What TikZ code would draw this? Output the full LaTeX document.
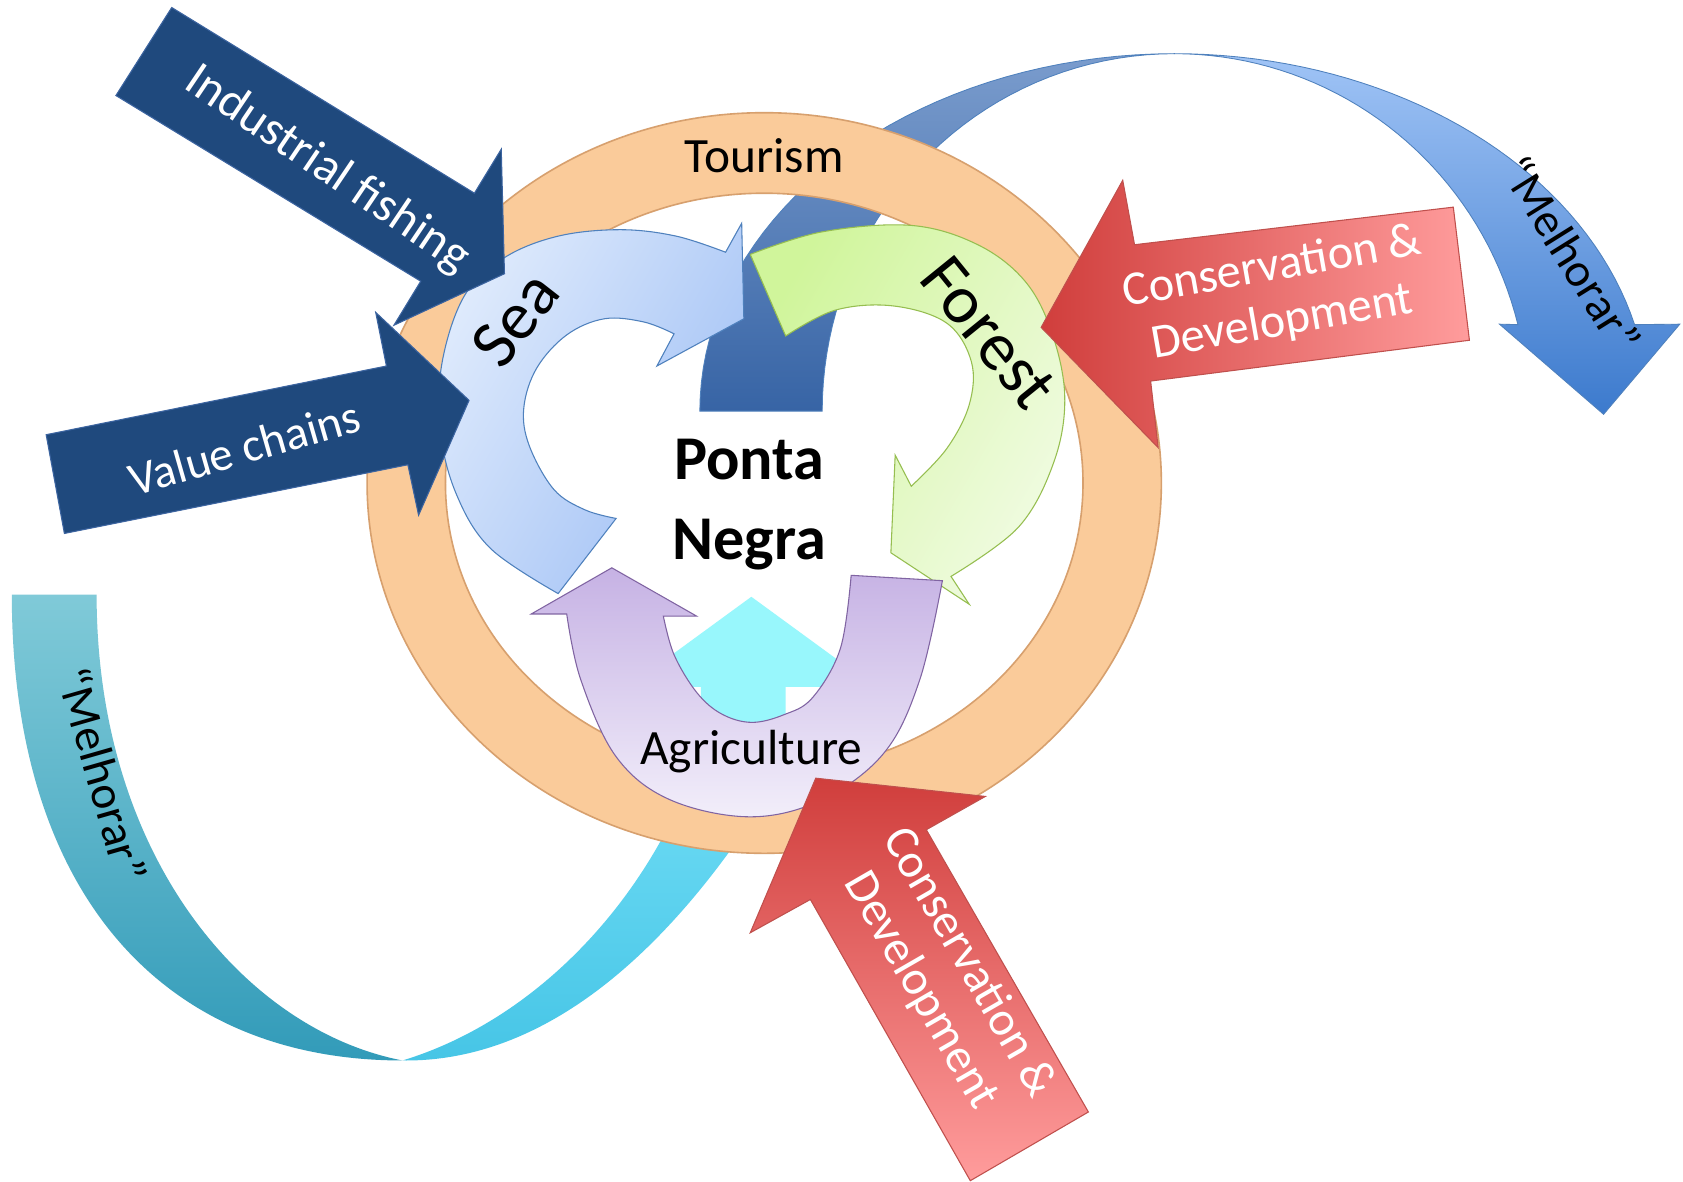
\documentclass[tikz,border=0pt]{standalone}
\usepackage{fontspec}
\setmainfont{Carlito}
\definecolor{navy}{RGB}{31,73,125}
\definecolor{navyline}{RGB}{60,100,160}
\definecolor{ringfill}{RGB}{250,203,154}
\definecolor{ringline}{RGB}{215,160,110}
\definecolor{seaA}{RGB}{222,234,252}
\definecolor{seaB}{RGB}{160,192,245}
\definecolor{bluline}{RGB}{79,129,189}
\definecolor{forA}{RGB}{240,251,225}
\definecolor{forB}{RGB}{208,245,155}
\definecolor{forline}{RGB}{150,190,80}
\definecolor{agrA}{RGB}{198,178,228}
\definecolor{agrB}{RGB}{242,238,250}
\definecolor{agrline}{RGB}{128,100,162}
\definecolor{redA}{RGB}{208,62,60}
\definecolor{redB}{RGB}{255,156,156}
\definecolor{redline}{RGB}{192,80,77}
\definecolor{dbA}{RGB}{122,156,205}
\definecolor{dbB}{RGB}{55,100,165}
\definecolor{lbA}{RGB}{160,196,246}
\definecolor{lbB}{RGB}{60,122,205}
\definecolor{cyA}{RGB}{128,202,216}
\definecolor{cyB}{RGB}{50,155,185}
\definecolor{cyC}{RGB}{70,197,230}
\definecolor{cyD}{RGB}{110,220,245}
\definecolor{cyhead}{RGB}{152,247,252}
\begin{document}
\begin{tikzpicture}[x=1pt,y=-1pt,
  navyarrow/.style={fill=navy,draw=navyline,line width=1pt},
  redarrow/.style={draw=redline,line width=1pt},
  wtext/.style={text=white,align=center,inner sep=0pt},
  btext/.style={text=black,align=center,inner sep=0pt}]
\path[use as bounding box,fill=white] (0,0) rectangle (1568,1101);

% cyan ribbon (bottom left)
\path[top color=cyA,bottom color=cyB]
  (11,554) .. controls (11,830) and (150,988) .. (375,988)
  .. controls (230,960) and (90,800) .. (90,554) -- cycle;
\path[bottom color=cyC,top color=cyD]
  (375,988) .. controls (530,990) and (650,850) .. (728,720)
  -- (645,720) .. controls (600,840) and (500,950) .. (375,988) -- cycle;
\path[fill=cyhead] (653,720) -- (653,640) -- (585,640) -- (700,556) -- (815,640) -- (732,640) -- (732,720) -- cycle;

% dark/light blue ribbon (top right)
\path[top color=dbA,bottom color=dbB,draw=bluline,line width=0.8pt]
  plot[domain=180:270,variable=\t,samples=40] ({1094+442*cos(\t)},{383+333*sin(\t)})
  -- plot[domain=270:180,variable=\t,samples=40] ({1094+328*cos(\t)},{383+333*sin(\t)})
  -- cycle;
\path[top color=lbA,bottom color=lbB,draw=bluline,line width=0.8pt]
  plot[domain=270:346,variable=\t,samples=40] ({1094+442*cos(\t)},{383+333*sin(\t)})
  -- (1565,302) -- (1494,386) -- (1397,302)
  -- plot[domain=346:270,variable=\t,samples=40] ({1094+330*cos(\t)},{383+333*sin(\t)})
  -- cycle;

% Tourism ring
\path[fill=ringfill,draw=ringline,line width=1.5pt,even odd rule]
  (712,450) ellipse [x radius=370,y radius=345]
  (712,450) ellipse [x radius=297,y radius=270];
\node[btext,font=\fontsize{46}{50}\selectfont] (tourism) at (712,145) {Tourism};

% Sea arrow
\path[left color=seaA,right color=seaB,shading angle=60,draw=bluline,line width=1pt]
  plot[smooth,tension=0.6] coordinates {(520,553) (457,511) (425,460) (410,400) (412,337) (433,275) (470,240) (520,220) (578,214) (630,220) (676,235)}
  -- (691,208) -- (693,297) -- (612,341) -- (628,311)
  -- plot[smooth,tension=0.6] coordinates {(628,311) (600,300) (563,297) (528,312) (500,343) (488,380) (493,415) (516,456) (545,475) (574,483)}
  -- cycle;
\node[btext,rotate=52,font=\fontsize{64}{70}\selectfont] (sea) at (480,297) {Sea};

% Forest arrow
\path[right color=forA,left color=forB,shading angle=60,draw=forline,line width=1pt]
  plot[smooth,tension=0.6] coordinates {(699,237) (766,216) (849,210) (911,228) (955,262) (980,310) (992,370) (982,430) (949,491) (886,537)}
  -- (903,563) -- (830,515) -- (834,424) -- (849,453)
  -- plot[smooth,tension=0.6] coordinates {(849,453) (882,418) (903,377) (905,337) (882,301) (832,285) (778,289) (732,313)}
  -- cycle;
\node[btext,rotate=-51,font=\fontsize{64}{70}\selectfont] (forest) at (921,310) {Forest};

% Agriculture arrow
\path[top color=agrA,bottom color=agrB,draw=agrline,line width=1pt]
  (528,572) -- (495,572) -- (570,529) -- (649,574) -- (618,574)
  -- plot[smooth,tension=0.6] coordinates {(618,574) (628,610) (649,645) (672,665) (700,673) (730,666) (757,650) (783,604) (793,536)}
  -- (878,541)
  -- plot[smooth,tension=0.6] coordinates {(878,541) (857,633) (824,701) (766,745) (699,761) (624,745) (574,705) (541,633) (528,572)}
  -- cycle;
\node[btext,font=\fontsize{46}{50}\selectfont] (agri) at (700,700) {Agriculture};

% centre
\node[btext,font=\bfseries\fontsize{58}{75}\selectfont] (ponta) at (698,470) {Ponta\\Negra};

% navy arrows
\path[navyarrow] (108,89) -- (160,7) -- (442,180) -- (467,139) -- (470,255) -- (367,303) -- (392,262) -- cycle;
\node[wtext,rotate=-34,font=\fontsize{46}{50}\selectfont] (indfish) at (305,158) {Industrial fishing};
\path[navyarrow] (43,405) -- (360,341) -- (350,291) -- (437,373) -- (390,480) -- (380,433) -- (60,497) -- cycle;
\node[wtext,rotate=16,font=\fontsize{44}{50}\selectfont] (valch) at (228,417) {Value chains};

% red arrows
\path[redarrow,left color=redA,right color=redB] (1354,193) -- (1057,228) -- (1046,168) -- (970,305) -- (1079,417) -- (1072,355) -- (1369,317) -- cycle;
\node[wtext,rotate=10,font=\fontsize{45}{52}\selectfont] (consR) at (1190,275) {Conservation \&\\Development};
\path[redarrow,top color=redA,bottom color=redB] (1014,1036) -- (863,773) -- (918,742) -- (760,725) -- (699,869) -- (755,838) -- (904,1100) -- cycle;
\node[wtext,rotate=-60,font=\fontsize{45}{52}\selectfont] (consB) at (880,910) {Conservation \&\\Development};

% Melhorar labels
\node[btext,rotate=-58,font=\fontsize{44}{50}\selectfont] (melR) at (1464,237) {“Melhorar”};
\node[btext,rotate=-74,font=\fontsize{44}{50}\selectfont] (melL) at (96,722) {“Melhorar”};
\end{tikzpicture}
\end{document}
